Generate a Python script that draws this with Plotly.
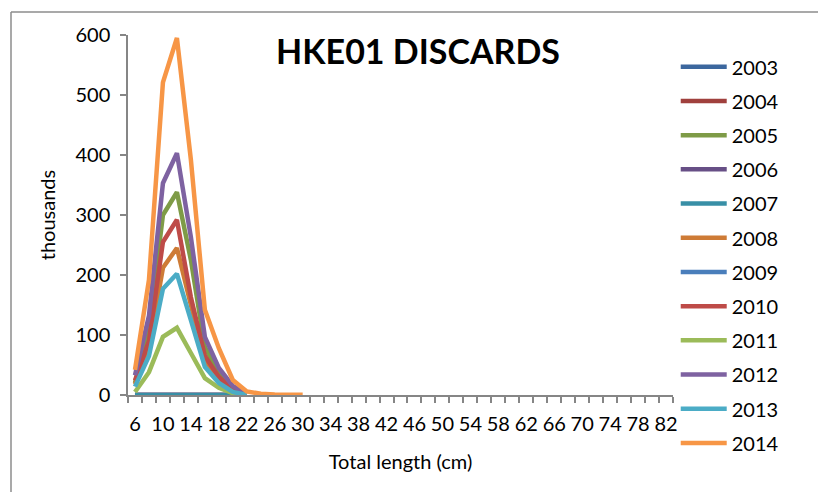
import plotly.graph_objects as go

lengths = [6, 8, 10, 12, 14, 16, 18, 20, 22, 24, 26, 28, 30]
years = ["2003", "2004", "2005", "2006", "2007", "2008", "2009", "2010", "2011", "2012", "2013", "2014"]
N = None
v2003 = [0, 0, 0, 0, 0, 0, 0, 0, 0, N, N, N, N]
v2004 = [0, 0, 0, 0, 0, 0, 0, 0, 0, N, N, N, N]
v2005 = [20, 110, 300, 338, 225, 80, 35, 10, 1, N, N, N, N]
v2006 = [0, 0, 0, 0, 0, 0, 0, 0, 0, N, N, N, N]
v2007 = [0, 0, 0, 0, 0, 0, 0, 0, 0, N, N, N, N]
v2008 = [18, 80, 212, 245, 150, 55, 25, 7, 1, N, N, N, N]
v2009 = [N, N, N, N, N, N, N, N, N, N, N, N, N]
v2010 = [24, 90, 255, 292, 163, 65, 30, 8, 1, N, N, N, N]
v2011 = [5, 38, 97, 112, 70, 28, 12, 3, 0, N, N, N, N]
v2012 = [33, 132, 353, 403, 263, 97, 45, 15, 2, N, N, N, N]
v2013 = [14, 65, 177, 202, 125, 47, 20, 5, 0, N, N, N, N]
v2014 = [42, 192, 521, 595, 392, 142, 78, 25, 6, 2, 1, 0.5, 0.3]
series = [v2003, v2004, v2005, v2006, v2007, v2008, v2009, v2010, v2011, v2012, v2013, v2014]
colors = ["#3C679E", "#A0403D", "#7E9B47", "#674F86", "#388FA6", "#CE7B36",
          "#4A7EBB", "#BE4B48", "#9BBB59", "#7E62A1", "#4BACC6", "#F79646"]
xticks = list(range(6, 83, 4))

FONT = "Lato"
fig = go.Figure()
for i, (y, vals) in enumerate(zip(years, series)):
    fig.add_trace(go.Scatter(x=lengths, y=vals, mode="lines", name=y,
                             legendgroup=y,
                             line=dict(color=colors[i], width=4.5),
                             connectgaps=False))

L, R, T, B = 128, 145, 35, 97
fig.update_layout(
    width=818, height=492,
    margin=dict(l=L, r=R, t=T, b=B),
    paper_bgcolor="white", plot_bgcolor="white",
    font=dict(family=FONT, size=20, color="black"),
    title=dict(text="<b>HKE01 DISCARDS</b>", x=418/818, xref="container", xanchor="center",
               y=1-52/492, yref="container", yanchor="middle",
               font=dict(family=FONT, size=34, color="black")),
    showlegend=True,
    legend=dict(x=1.005, xanchor="left", y=0.966, yanchor="top",
                font=dict(family=FONT, size=20), tracegroupgap=5.2,
                bgcolor="rgba(0,0,0,0)", itemwidth=46, maxheight=480),
    xaxis=dict(range=[5, 83], tickmode="array", tickvals=xticks,
               ticktext=[str(v) for v in xticks],
               showline=True, linecolor="#868686", linewidth=1.5,
               showgrid=False, zeroline=False, ticks="",
               ticklabelstandoff=10,
               minor=dict(tickmode="linear", tick0=5, dtick=2, ticks="outside",
                          ticklen=6, tickcolor="#868686", tickwidth=1.5, showgrid=False),
               title=dict(text="Total length (cm)", standoff=21,
                          font=dict(family=FONT, size=20))),
    yaxis=dict(range=[0, 600], dtick=100, showline=True, linecolor="#868686", linewidth=1.5,
               showgrid=False, zeroline=False, ticks="outside", ticklen=6,
               tickcolor="#868686", tickwidth=1.5, ticklabelstandoff=6,
               title=dict(text="thousands", standoff=14,
                          font=dict(family=FONT, size=20))),
)
# chart border (extends beyond visible window)
fig.add_shape(type="line", xref="paper", yref="paper",
              x0=(11 - L) / 545, x1=(840 - L) / 545, y0=(395 - 12) / 360, y1=(395 - 12) / 360,
              line=dict(color="#8C8C8C", width=1.5))
fig.add_shape(type="line", xref="paper", yref="paper",
              x0=(11 - L) / 545, x1=(11 - L) / 545, y0=(395 - 12) / 360, y1=(395 - 520) / 360,
              line=dict(color="#8C8C8C", width=1.5))

fig.write_html("out.html")
